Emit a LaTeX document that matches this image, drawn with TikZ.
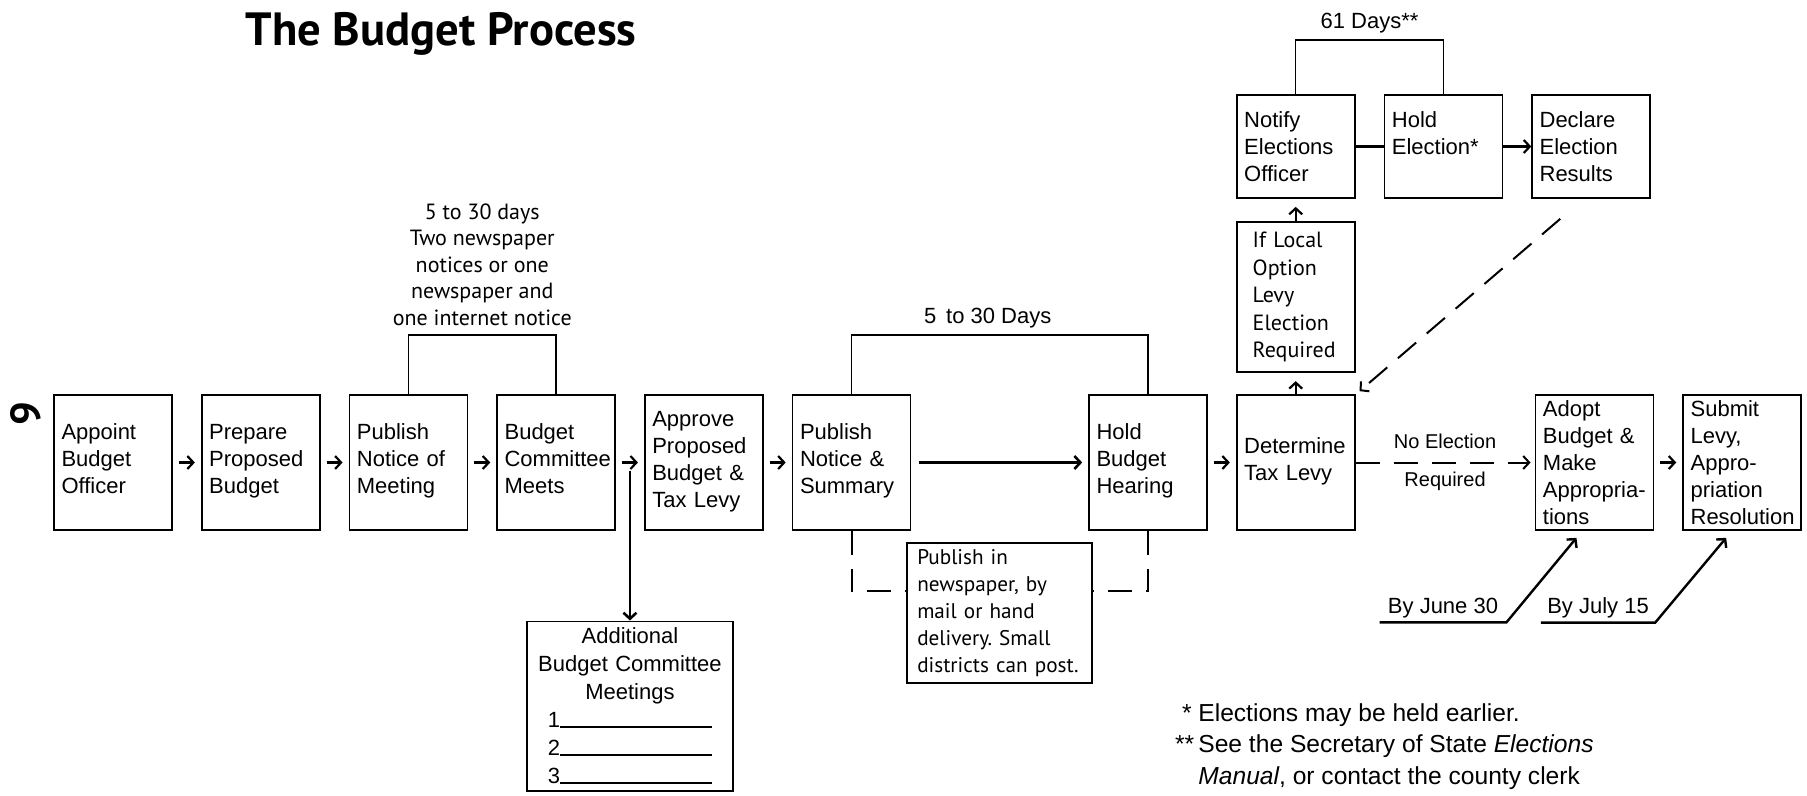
\documentclass[tikz,border=0pt]{standalone}
\usepackage{fontspec}
\setmainfont{Liberation Sans}
\newfontfamily\myriad{PT Sans}
\usetikzlibrary{positioning,calc,arrows.meta}
\frenchspacing

\begin{document}
\begin{tikzpicture}[
x=0.5pt, y=-0.5pt,
>={Straight Barb[length=3pt,width=6.5pt]},
basebox/.style={rectangle, draw=black, line width=0.85pt, text width=51.5pt, inner xsep=3.75pt, inner ysep=0pt, minimum height=67.5pt, align=left, font=\fontsize{11}{13.5}\selectfont},
stepbox/.style={basebox, execute at end node={\rule[-3.5pt]{0pt}{3.5pt}}},
electbox/.style={basebox, minimum height=51.5pt},
notebox/.style={rectangle, draw=black, line width=0.85pt, inner xsep=5pt, align=left, font=\myriad\fontsize{10.6}{13.5}\selectfont},
steparrow/.style={->, line width=1.1pt, shorten <=3pt, shorten >=3pt},
bracket/.style={line width=0.75pt},
dashline/.style={line width=1pt, dash pattern=on 12pt off 7pt},
daysnote/.style={font=\fontsize{11}{13.5}\selectfont, inner sep=2pt},
]
\useasboundingbox (0,0) rectangle (1807,796);

%Nodes
%%% Titulo
\node[font=\myriad\bfseries\fontsize{23.3}{28}\selectfont] (title) at (441,34) {The Budget Process};
\node[font=\myriad\bfseries\fontsize{21}{24}\selectfont, rotate=90] (pagenum) at (26,414) {9};

%%% Fila principal
\node[stepbox]   (appoint)   at (113,462.5) {Appoint\\Budget\\Officer};
\node[stepbox]   (prepare)   [right=14pt of appoint] {Prepare\\Proposed\\Budget};
\node[stepbox]   (notice)    [right=14pt of prepare] {Publish\\Notice of\\Meeting};
\node[stepbox]   (committee) [right=14pt of notice] {Budget\\Committee\\Meets};
\node[stepbox]   (approve)   [right=14pt of committee] {Approve\\Proposed\\Budget \&\\Tax Levy};
\node[stepbox]   (summary)   [right=14pt of approve] {Publish\\Notice \&\\Summary};
\node[stepbox]   (hearing)   [right=88.4pt of summary] {Hold\\Budget\\Hearing};
\node[stepbox]   (levy)      [right=14pt of hearing] {Determine\\Tax Levy};
\node[basebox]   (adopt)     [right=89.5pt of levy] {Adopt\\Budget \&\\Make\\\mbox{Appropria-}\\tions};
\node[basebox]   (submit)    [right=14pt of adopt] {Submit\\Levy,\\Appro-\\priation\\Resolution};

%%% Eleccion
\node[basebox, font=\myriad\fontsize{11}{13.75}\selectfont, minimum height=75pt, inner xsep=8pt, text width=43pt] (iflocal) [above=10.5pt of levy] {If Local\\Option\\Levy\\Election\\Required};
\node[electbox]  (notify)    [above=11.3pt of iflocal] {Notify\\Elections\\Officer};
\node[electbox]  (holdelect) [right=14pt of notify] {Hold\\Election*\\\mbox{}};
\node[electbox]  (declare)   [right=14pt of holdelect] {Declare\\Election\\Results};

%%% Fechas
\node[daysnote, inner xsep=4pt] (june) at (1443,608) {By June 30};
\node[daysnote, inner xsep=3pt] (july) at (1598,608) {By July 15};

%%% Notas
\node[anchor=north west, align=left, inner sep=0pt, font=\fontsize{12.3}{15.75}\selectfont] (footnotes) at (1198,703) {\llap{*\ }Elections may be held earlier.\\\llap{**\,}See the Secretary of State \textit{Elections}\\\textit{Manual}, or contact the county clerk};

%Lines
%%% Flechas fila principal
\draw[steparrow] (appoint) -- (prepare);
\draw[steparrow] (prepare) -- (notice);
\draw[steparrow] (notice) -- (committee);
\draw[steparrow] (committee) -- (approve) coordinate[midway] (split);
\draw[steparrow] (approve) -- (summary);
\draw[->, line width=1.3pt, shorten <=4pt, shorten >=3pt] (summary) -- (hearing);
\draw[steparrow] (hearing) -- (levy);
\draw[dashline, ->, shorten >=2pt] (levy) -- (adopt) node[midway,above=3pt] {No Election} node[midway,below=1pt] {Required};
\draw[steparrow] (adopt) -- (submit);

%%% Reuniones adicionales
\node[rectangle, draw=black, line width=0.85pt, text width=94pt, inner xsep=4.5pt, minimum height=84.5pt, align=center, font=\fontsize{11}{14}\selectfont] (additional) [below=79pt of split] {Additional\\Budget Committee\\Meetings\\1\rule{76pt}{1pt}\\2\rule{76pt}{1pt}\\3\rule{76pt}{1pt}};
\draw[->, line width=1.3pt] ([yshift=-4pt]split) -- (additional);

%%% Publicacion
\coordinate (midhear) at ($(summary.south)!0.5!(hearing.south)$);
\node[notebox, text width=82.5pt, minimum height=70pt] (pubin) [below=5.5pt of midhear] {Publish in\\newspaper, by\\mail or hand\\delivery. Small\\\mbox{districts can post.}};
\draw[dashline] (summary.south) |- ([yshift=11pt]pubin.west);
\draw[dashline] (hearing.south) |- ([yshift=11pt]pubin.east);

%%% Corchetes de dias
\draw[bracket] (notice.north) -- ++(0pt,29.5pt) -| node[pos=0.25, above=1pt, align=center, font=\myriad\fontsize{11}{13.25}\selectfont] (newsnote) {5 to 30 days\\Two newspaper\\notices or one\\newspaper and\\one internet notice} (committee.north);
\draw[bracket] (summary.north) -- ++(0pt,29.5pt) -| node[pos=0.25, above=1pt, xshift=-6pt, daysnote] (hearnote) {5\, to 30 Days} (hearing.north);
\draw[bracket] (notify.north) -- ++(0pt,27pt) -| node[pos=0.25, above=1pt, daysnote] (electnote) {61 Days**} (holdelect.north);

%%% Eleccion
\draw[->, line width=1.1pt, shorten >=4pt] (levy) -- (iflocal);
\draw[->, line width=1.1pt, shorten >=4pt] (iflocal) -- (notify);
\draw[line width=1.1pt] (notify) -- (holdelect);
\draw[->, line width=1.1pt] (holdelect) -- (declare);
\draw[dashline, ->] ([xshift=14.5pt,yshift=-10pt]declare.south west) -- ([xshift=2pt,yshift=1.5pt]levy.north east);

%%% Fechas limite
\draw[->, line width=1.2pt] (june.south west) -- (june.south east) -- ([xshift=-9pt,yshift=-3.5pt]adopt.south);
\draw[->, line width=1.2pt] (july.south west) -- (july.south east) -- ([xshift=-8pt,yshift=-3.5pt]submit.south);

\end{tikzpicture}
\end{document}
